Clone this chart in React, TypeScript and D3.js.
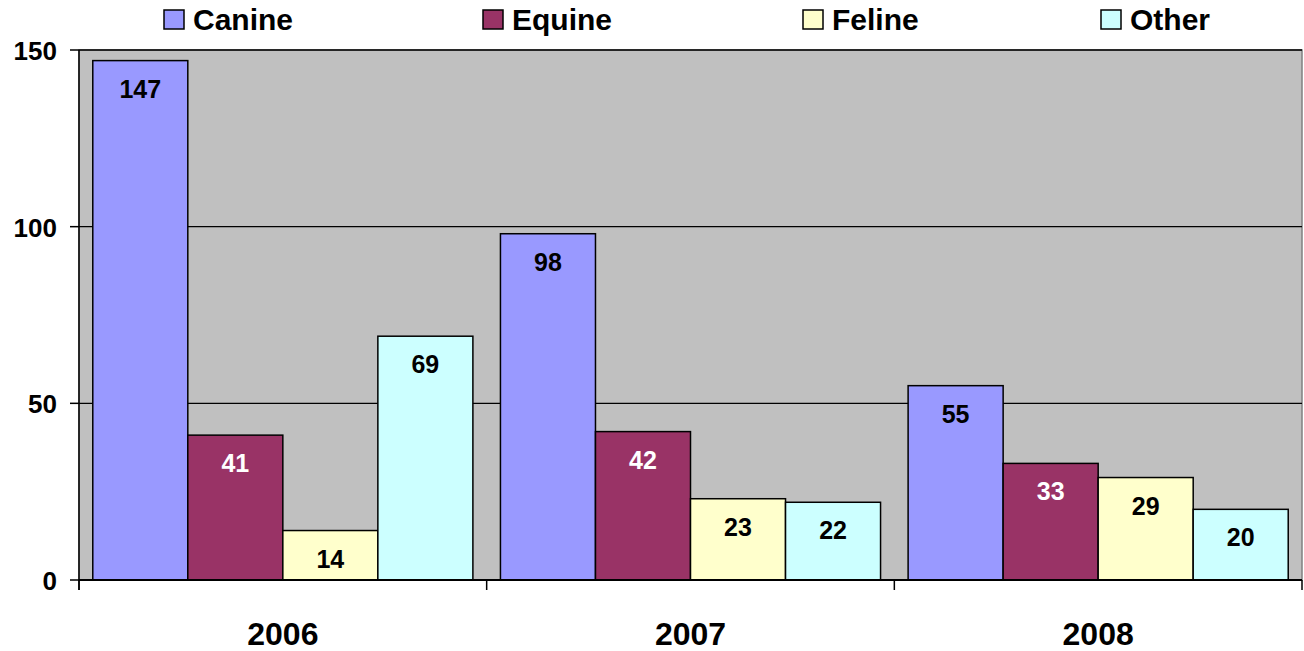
import { scaleBand, scaleLinear } from 'd3';

const years = ['2006', '2007', '2008'];
const seriesNames = ['Canine', 'Equine', 'Feline', 'Other'];
const canine = [147, 98, 55];
const equine = [41, 42, 33];
const feline = [14, 23, 29];
const other = [69, 22, 20];
const yTicks = [0, 50, 100, 150];

const seriesValues = [canine, equine, feline, other];
const seriesColors = ['#9999FF', '#993366', '#FFFFCC', '#CCFFFF'];
const labelColors = ['#000', '#fff', '#000', '#000'];
const legendX = [164, 483, 803, 1101];

const WIDTH = 1304;
const HEIGHT = 651;
const PLOT = { left: 79, right: 1302, top: 50, bottom: 580 };
const FONT = '"Liberation Sans", Arial, sans-serif';

export default function App() {
  const x = scaleBand<string>().domain(years).range([PLOT.left, PLOT.right]);
  const inner = scaleBand<string>()
    .domain(seriesNames)
    .range([0, x.bandwidth()])
    .paddingInner(0)
    .paddingOuter(0.145);
  const y = scaleLinear().domain([0, 150]).range([PLOT.bottom, PLOT.top]);

  const boundaries = [...years.map((yr) => x(yr) ?? 0), PLOT.right];

  return (
    <div style={{ position: 'absolute', left: 0, top: 0 }}>
      <svg width={WIDTH} height={HEIGHT} style={{ display: 'block', background: '#fff' }} fontFamily={FONT}>
        <rect
          x={PLOT.left}
          y={PLOT.top}
          width={PLOT.right - PLOT.left}
          height={PLOT.bottom - PLOT.top}
          fill="#C0C0C0"
          stroke="#808080"
          strokeWidth={1.5}
        />
        {yTicks
          .filter((t) => t > 0)
          .map((t) => (
            <line key={`g-${t}`} x1={PLOT.left} x2={PLOT.right} y1={y(t)} y2={y(t)} stroke="#000" strokeWidth={1.4} />
          ))}

        {seriesNames.map((name, si) =>
          years.map((yr, yi) => {
            const v = seriesValues[si][yi];
            const bx = (x(yr) ?? 0) + (inner(name) ?? 0);
            const by = y(v);
            return (
              <g key={`${name}-${yr}`}>
                <rect
                  x={bx}
                  y={by}
                  width={inner.bandwidth()}
                  height={y(0) - by}
                  fill={seriesColors[si]}
                  stroke="#000"
                  strokeWidth={1.5}
                />
                <text
                  x={bx + inner.bandwidth() / 2}
                  y={by + 37}
                  textAnchor="middle"
                  fontSize={25}
                  fontWeight="bold"
                  fill={labelColors[si]}
                >
                  {v}
                </text>
              </g>
            );
          }),
        )}

        {/* axes */}
        <line x1={PLOT.left} x2={PLOT.left} y1={PLOT.top} y2={PLOT.bottom + 10} stroke="#000" strokeWidth={1.5} />
        <line x1={PLOT.left} x2={PLOT.right} y1={PLOT.bottom} y2={PLOT.bottom} stroke="#000" strokeWidth={2} />
        {yTicks.map((t) => (
          <g key={`t-${t}`}>
            <line x1={PLOT.left - 9} x2={PLOT.left} y1={y(t)} y2={y(t)} stroke="#000" strokeWidth={1.5} />
            <text x={57} y={y(t) + 10} textAnchor="end" fontSize={26} fontWeight="bold" fill="#000">
              {t}
            </text>
          </g>
        ))}
        {boundaries.map((bx, i) => (
          <line key={`xt-${i}`} x1={bx} x2={bx} y1={PLOT.bottom} y2={PLOT.bottom + 10} stroke="#000" strokeWidth={1.5} />
        ))}
        {years.map((yr) => (
          <text
            key={yr}
            x={(x(yr) ?? 0) + x.bandwidth() / 2}
            y={645}
            textAnchor="middle"
            fontSize={32}
            fontWeight="bold"
            fill="#000"
          >
            {yr}
          </text>
        ))}

        {/* legend */}
        {seriesNames.map((name, i) => (
          <g key={`l-${name}`}>
            <rect x={legendX[i]} y={10} width={20} height={19} fill={seriesColors[i]} stroke="#000" strokeWidth={1.5} />
            <text x={legendX[i] + 29} y={30} fontSize={30} fontWeight="bold" fill="#000">
              {name}
            </text>
          </g>
        ))}
      </svg>
    </div>
  );
}
